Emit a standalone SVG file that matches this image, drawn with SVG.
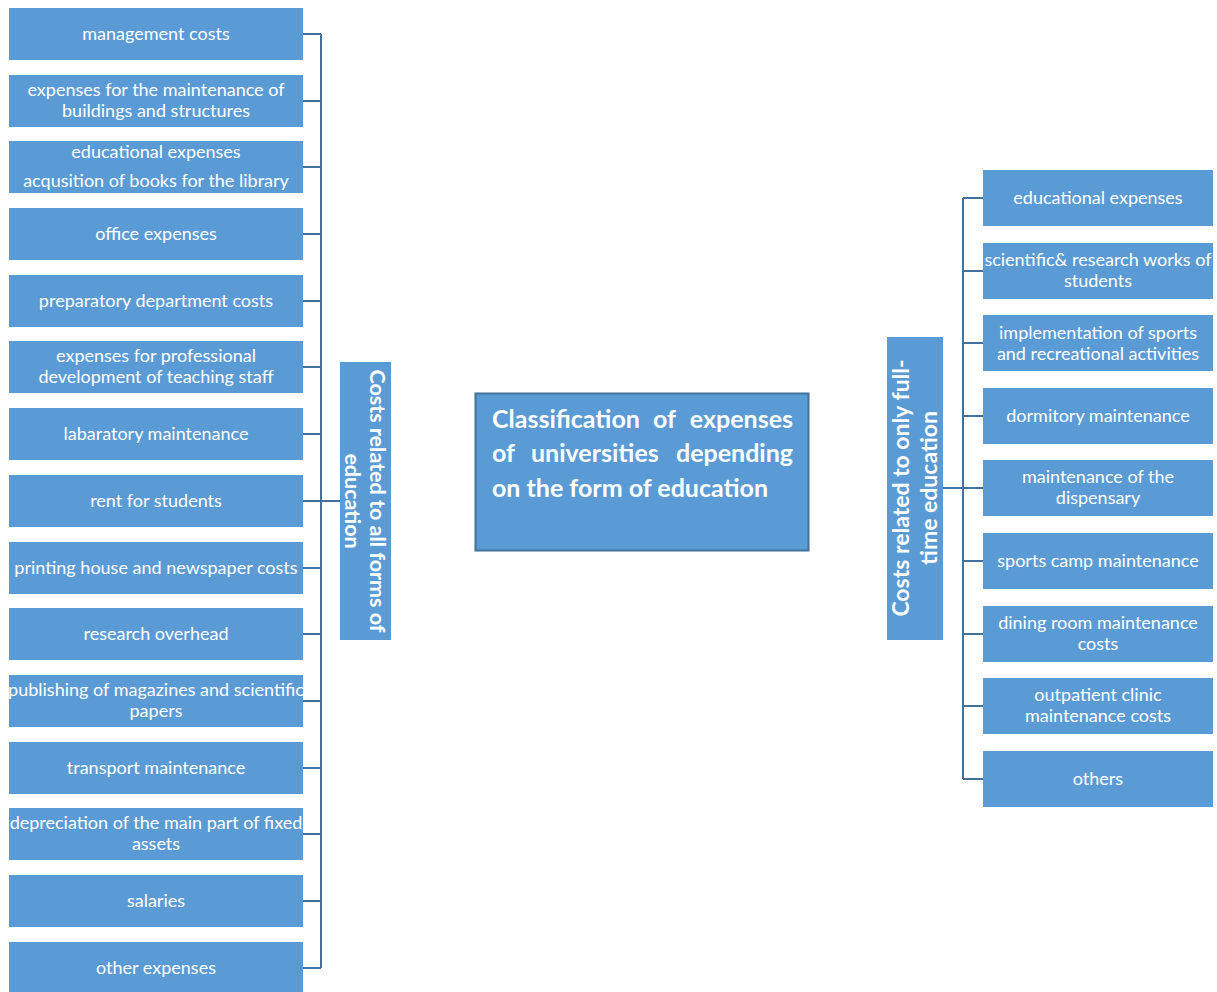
<svg xmlns="http://www.w3.org/2000/svg" width="1217" height="992" viewBox="0 0 1217 992">
<style>
.box{fill:#5B9BD5}
.t{font-family:Lato,"Open Sans",sans-serif;font-size:18px;fill:#ffffff;text-anchor:middle}
.lbl{font-family:Lato,"Open Sans",sans-serif;font-weight:bold;fill:#ffffff;text-anchor:middle}
.ttl{font-family:Lato,"Open Sans",sans-serif;font-size:25px;font-weight:bold;fill:#ffffff}
.conn{stroke:#41719C;stroke-width:2;fill:none}
</style>
<rect width="1217" height="992" fill="#ffffff"/>
<g id="connectors">
<path class="conn" d="M321 34V968M303 34H321M303 101H321M303 167H321M303 234H321M303 301H321M303 367H321M303 434H321M303 501H321M303 568H321M303 634H321M303 701H321M303 768H321M303 834H321M303 901H321M303 968H321M321 501H340"/>
<path class="conn" d="M963 198V779M963 198H983M963 271H983M963 343H983M963 416H983M963 488H983M963 561H983M963 634H983M963 706H983M963 779H983M943 488H963"/>
</g>
<g id="center">
<rect x="475.5" y="393.5" width="333" height="157" fill="#5B9BD5" stroke="#41719C" stroke-width="2"/>
<text class="ttl" x="492" y="428">Classification</text>
<text class="ttl" x="653" y="428">of</text>
<text class="ttl" x="793" y="428" text-anchor="end">expenses</text>
<text class="ttl" x="492" y="462">of</text>
<text class="ttl" x="531" y="462">universities</text>
<text class="ttl" x="793" y="462" text-anchor="end">depending</text>
<text class="ttl" x="492" y="497">on the form of education</text>
</g>
<g id="all-forms">
<rect class="box" x="340" y="362" width="51" height="278"/>
<g transform="translate(365.5,501) rotate(90)">
<text class="lbl" x="0" y="-4.5" font-size="21.5">Costs related to all forms of</text>
<text class="lbl" x="0" y="20.5" font-size="21.5">education</text>
</g>
</g>
<g id="full-time">
<rect class="box" x="887" y="337" width="56" height="303"/>
<g transform="translate(915,488) rotate(-90)">
<text class="lbl" x="0" y="-6" font-size="23">Costs related to only full-</text>
<text class="lbl" x="0" y="22" font-size="23">time education</text>
</g>
</g>
<g id="l1"><rect class="box" x="9" y="8" width="294" height="52"/><text class="t" x="156" y="40">management costs</text></g>
<g id="l2"><rect class="box" x="9" y="75" width="294" height="52"/><text class="t" x="156" y="96">expenses for the maintenance of</text><text class="t" x="156" y="117">buildings and structures</text></g>
<g id="l3"><rect class="box" x="9" y="141" width="294" height="52"/><text class="t" x="156" y="158">educational expenses</text><text class="t" x="156" y="187">acqusition of books for the library</text></g>
<g id="l4"><rect class="box" x="9" y="208" width="294" height="52"/><text class="t" x="156" y="240">office expenses</text></g>
<g id="l5"><rect class="box" x="9" y="275" width="294" height="52"/><text class="t" x="156" y="307">preparatory department costs</text></g>
<g id="l6"><rect class="box" x="9" y="341" width="294" height="52"/><text class="t" x="156" y="362">expenses for professional</text><text class="t" x="156" y="383">development of teaching staff</text></g>
<g id="l7"><rect class="box" x="9" y="408" width="294" height="52"/><text class="t" x="156" y="440">labaratory maintenance</text></g>
<g id="l8"><rect class="box" x="9" y="475" width="294" height="52"/><text class="t" x="156" y="507">rent for students</text></g>
<g id="l9"><rect class="box" x="9" y="542" width="294" height="52"/><text class="t" x="156" y="574">printing house and newspaper costs</text></g>
<g id="l10"><rect class="box" x="9" y="608" width="294" height="52"/><text class="t" x="156" y="640">research overhead</text></g>
<g id="l11"><rect class="box" x="9" y="675" width="294" height="52"/><text class="t" x="156" y="696">publishing of magazines and scientific</text><text class="t" x="156" y="717">papers</text></g>
<g id="l12"><rect class="box" x="9" y="742" width="294" height="52"/><text class="t" x="156" y="774">transport maintenance</text></g>
<g id="l13"><rect class="box" x="9" y="808" width="294" height="52"/><text class="t" x="156" y="829">depreciation of the main part of fixed</text><text class="t" x="156" y="850">assets</text></g>
<g id="l14"><rect class="box" x="9" y="875" width="294" height="52"/><text class="t" x="156" y="907">salaries</text></g>
<g id="l15"><rect class="box" x="9" y="942" width="294" height="52"/><text class="t" x="156" y="974">other expenses</text></g>
<g id="r1"><rect class="box" x="983" y="170" width="230" height="56"/><text class="t" x="1098" y="204">educational expenses</text></g>
<g id="r2"><rect class="box" x="983" y="243" width="230" height="56"/><text class="t" x="1098" y="266">scientific&amp; research works of</text><text class="t" x="1098" y="287">students</text></g>
<g id="r3"><rect class="box" x="983" y="315" width="230" height="56"/><text class="t" x="1098" y="339">implementation of sports</text><text class="t" x="1098" y="360">and recreational activities</text></g>
<g id="r4"><rect class="box" x="983" y="388" width="230" height="56"/><text class="t" x="1098" y="422">dormitory maintenance</text></g>
<g id="r5"><rect class="box" x="983" y="460" width="230" height="56"/><text class="t" x="1098" y="483">maintenance of the</text><text class="t" x="1098" y="504">dispensary</text></g>
<g id="r6"><rect class="box" x="983" y="533" width="230" height="56"/><text class="t" x="1098" y="567">sports camp maintenance</text></g>
<g id="r7"><rect class="box" x="983" y="606" width="230" height="56"/><text class="t" x="1098" y="629">dining room maintenance</text><text class="t" x="1098" y="650">costs</text></g>
<g id="r8"><rect class="box" x="983" y="678" width="230" height="56"/><text class="t" x="1098" y="701">outpatient clinic</text><text class="t" x="1098" y="722">maintenance costs</text></g>
<g id="r9"><rect class="box" x="983" y="751" width="230" height="56"/><text class="t" x="1098" y="785">others</text></g>
</svg>
